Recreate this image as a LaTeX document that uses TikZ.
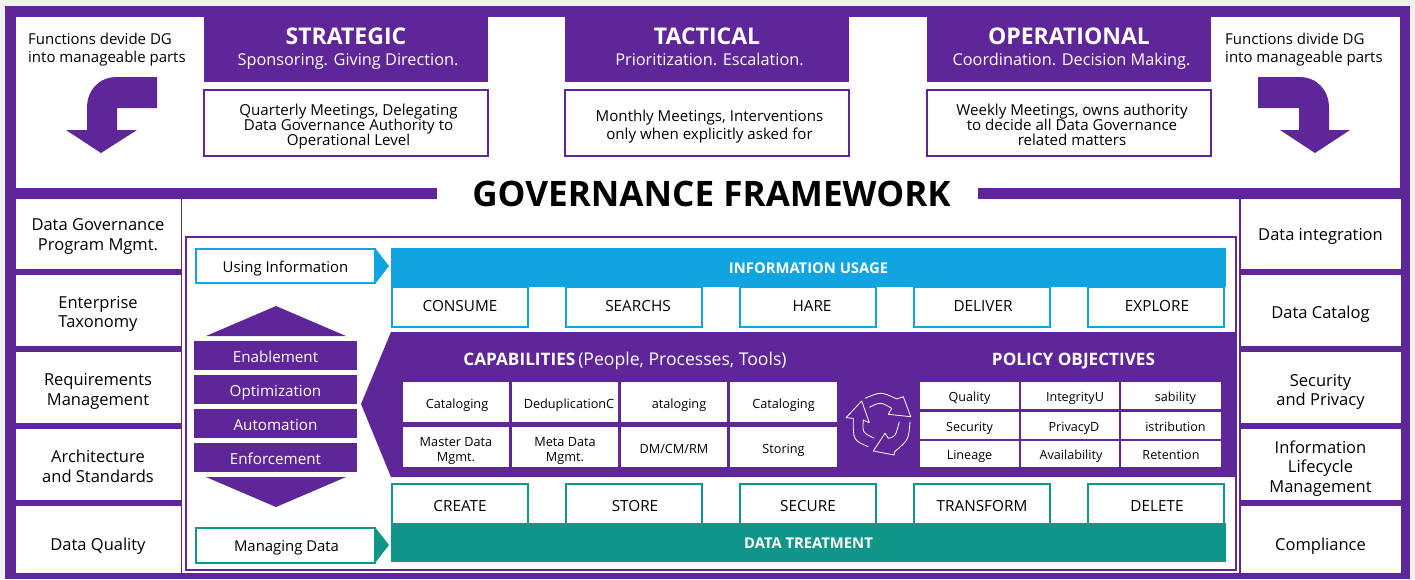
\documentclass[tikz,border=0pt]{standalone}
\usepackage{fontspec}
\setmainfont{Open Sans}
\usepackage{tikz}
\usetikzlibrary{shapes,arrows,positioning}

\definecolor{govpurple}{HTML}{5E2699}
\definecolor{govblue}{HTML}{10A5E0}
\definecolor{govteal}{HTML}{109689}
\definecolor{govpage}{HTML}{EFF1F3}

\tikzset{
	headbox/.style={fill=govpurple, inner sep=0pt, minimum width=284, minimum height=65},
	headtitle/.style={text=white, anchor=base, inner sep=0pt, font=\fontsize{23}{26}\selectfont\bfseries},
	headsub/.style={text=white, anchor=base, inner sep=0pt, font=\fontsize{16.3}{18}\selectfont},
	meetbox/.style={draw=govpurple, line width=2.5pt, fill=white, inner sep=0pt, minimum width=284, minimum height=66},
	meettext/.style={inner sep=0pt, align=center, font=\fontsize{15.1}{15}\selectfont\setlength{\lineskiplimit}{-10pt}},
	functext/.style={anchor=west, inner sep=0pt, align=left, font=\fontsize{15}{18.5}\selectfont},
	sidebox/.style={draw=govpurple, line width=1pt, fill=white, inner sep=0pt, minimum width=166},
	sidetext/.style={inner sep=0pt, align=center, font=\fontsize{16.5}{19.7}\selectfont},
	usebox/.style={draw=govblue, line width=2pt, fill=white, inner sep=0pt, minimum width=136, minimum height=40, text height=11pt, text depth=1.6pt, font=\fontsize{15.3}{16}\selectfont},
	treatbox/.style={draw=govteal, line width=2pt, fill=white, inner sep=0pt, minimum width=136, minimum height=40, text height=17pt, text depth=1.6pt, font=\fontsize{15.3}{16}\selectfont},
	tagbox/.style={fill=white, inner sep=0pt, line width=2pt, minimum width=179, text height=15pt, text depth=1.6pt, font=\fontsize{14.9}{16}\selectfont},
	bigbar/.style={text=white, inner sep=0pt, minimum width=835, minimum height=39, text height=14pt, text depth=1.6pt, font=\fontsize{14.8}{16}\selectfont\bfseries},
	levelbar/.style={fill=govpurple, text=white, inner sep=0pt, minimum width=163, minimum height=29, text height=15.6pt, text depth=1.6pt, font=\fontsize{15.2}{16}\selectfont},
	capbox/.style={fill=white, inner sep=0pt, minimum width=106, minimum height=40, text height=14pt, text depth=1.4pt, font=\fontsize{12.7}{15}\selectfont},
	captext/.style={inner sep=0pt, align=center, font=\fontsize{12.7}{15}\selectfont},
	policybox/.style={fill=white, inner sep=0pt, minimum width=99, minimum height=27, text height=13pt, text depth=1.5pt, font=\fontsize{12.6}{15}\selectfont},
	bentarrow/.style={fill=govpurple, draw=none},
	cycleline/.style={draw=white, line width=0.8pt, line join=round}
}

\begin{document}
\begin{tikzpicture}[x=1pt, y=-1pt]
	\useasboundingbox (0,0) rectangle (1415,579);
	\fill[govpage] (0,0) rectangle (1415,579);
	\fill[govpurple] (5,6) rectangle (1410,579);
	
	% top panel
	\fill[white] (16,17) rectangle (1400,188);
	\fill[white] (437,186) rectangle (978,204);
	\fill[white] (182,199) rectangle (1239,573);
	\draw[govpurple, line width=2pt] (186,237) rectangle (1236,570);
	
	\node[headbox] (h1) at (346,49.5) {};
	\node[headbox] (h2) at (707,49.5) {};
	\node[headbox] (h3) at (1069,49.5) {};
	\node[headtitle] (ht1) at (346,44) {STRATEGIC};
	\node[headtitle] (ht2) at (707,44) {TACTICAL};
	\node[headtitle] (ht3) at (1069,44) {OPERATIONAL};
	\node[headsub] (hs1) at (348,65.5) {Sponsoring. Giving Direction.};
	\node[headsub] (hs2) at (709.5,65.5) {Prioritization. Escalation.};
	\node[headsub] (hs3) at (1071.5,65.5) {Coordination. Decision Making.};
	
	\node[meetbox] (m1) at (346,123) {};
	\node[meetbox] (m2) at (707,123) {};
	\node[meetbox] (m3) at (1069,123) {};
	\node[meettext] (mt1) at (348.5,126.5) {Quarterly Meetings, Delegating\\Data Governance Authority to\\Operational Level};
	\node[meettext, font=\fontsize{15.1}{18}\selectfont] (mt2) at (709.5,127) {Monthly Meetings, Interventions\\only when explicitly asked for};
	\node[meettext] (mt3) at (1072,124.5) {Weekly Meetings, owns authority\\to decide all Data Governance\\related matters};
	
	\node[functext] (f1) at (28,49.5) {Functions devide DG\\into manageable parts};
	\node[functext] (f2) at (1225,49.5) {Functions divide DG\\into manageable parts};
	
	% bent arrows
	\fill[bentarrow] (157,77) -- (157,108) -- (117,108) -- (117,130) -- (137,130) -- (101,153) -- (66,130) -- (87,130) -- (87,108) .. controls (87,90) and (99,77) .. (117,77) -- cycle;
	\fill[bentarrow] (1258,77) -- (1258,108) -- (1299,108) -- (1299,130) -- (1280,130) -- (1315,153) -- (1350,130) -- (1329,130) -- (1329,108) .. controls (1329,90) and (1317,77) .. (1299,77) -- cycle;
	
	\node[font=\fontsize{35.1}{40}\selectfont\bfseries, inner sep=0pt] (title) at (711.5,194) {GOVERNANCE FRAMEWORK};
	
	% side columns
	\node[sidebox, minimum height=71] (l1) at (98,233.5) {};
	\node[sidebox, minimum height=72] (l2) at (98,310.5) {};
	\node[sidebox, minimum height=72] (l3) at (98,387.5) {};
	\node[sidebox, minimum height=72] (l4) at (98,464.5) {};
	\node[sidebox, minimum height=68] (l5) at (98,539.5) {};
	\node[sidetext] (lt1) at (98,236.5) {Data Governance\\Program Mgmt.};
	\node[sidetext] (lt2) at (98,314) {Enterprise\\Taxonomy};
	\node[sidetext] (lt3) at (98,391.5) {Requirements\\Management};
	\node[sidetext] (lt4) at (98,466.5) {Architecture\\and Standards};
	\node[sidetext] (lt5) at (98,546.5) {Data Quality};
	
	\node[sidebox, minimum width=161, minimum height=71] (r1) at (1320.5,233.5) {};
	\node[sidebox, minimum width=161, minimum height=72] (r2) at (1320.5,310.5) {};
	\node[sidebox, minimum width=161, minimum height=72] (r3) at (1320.5,387.5) {};
	\node[sidebox, minimum width=161, minimum height=72] (r4) at (1320.5,464.5) {};
	\node[sidebox, minimum width=161, minimum height=68] (r5) at (1320.5,539.5) {};
	\node[sidetext] (rt1) at (1320.5,236.5) {Data integration};
	\node[sidetext] (rt2) at (1320.5,314.5) {Data Catalog};
	\node[sidetext] (rt3) at (1320.5,392) {Security\\and Privacy};
	\node[sidetext] (rt4) at (1320.5,468.5) {Information\\Lifecycle\\Management};
	\node[sidetext] (rt5) at (1320.5,546.5) {Compliance};
	
	% information usage
	\fill[govblue] (375,248) -- (389,266) -- (375,284) -- cycle;
	\node[tagbox, draw=govblue, minimum height=34] (using) at (285.5,266) {Using Information};
	\node[bigbar, fill=govblue] (iu) at (808.5,267.5) {INFORMATION USAGE};
	\node[usebox] (u1) at (460,307) {CONSUME};
	\node[usebox] (u2) at (634,307) {\hspace*{8pt}SEARCHS};
	\node[usebox] (u3) at (808,307) {\hspace*{8pt}HARE};
	\node[usebox] (u4) at (982,307) {\hspace*{2pt}DELIVER};
	\node[usebox] (u5) at (1156,307) {\hspace*{2pt}EXPLORE};
	
	% levels
	\fill[govpurple] (206,336) -- (276,306) -- (346,336) -- cycle;
	\node[levelbar, text height=14.6pt] (e1) at (275.5,355.5) {Enablement};
	\node[levelbar] (e2) at (275.5,389.5) {Optimization};
	\node[levelbar] (e3) at (275.5,423.5) {Automation};
	\node[levelbar] (e4) at (275.5,457.5) {Enforcement};
	\fill[govpurple] (206,477) -- (346,477) -- (276,507) -- cycle;
	
	% capabilities
	\fill[govpurple] (361,404) -- (391,332) -- (1235,332) -- (1235,477) -- (391,477) -- cycle;
	\node[text=white, anchor=center, inner sep=0pt, font=\fontsize{17.6}{18}\selectfont] (ct) at (625,360.5) {\fontsize{17.2}{18}\selectfont\textbf{CAPABILITIES}\,\fontsize{17.6}{18}\selectfont(People, Processes, Tools)};
	\node[text=white, inner sep=0pt, font=\fontsize{17.15}{18}\selectfont\bfseries] (pt) at (1073.5,361) {POLICY OBJECTIVES};
	
	\node[capbox] (c1) at (456,402) {\hspace*{2pt}Cataloging};
	\node[capbox] (c2) at (565,402) {\hspace*{8pt}DeduplicationC};
	\node[capbox] (c3) at (674,402) {\hspace*{10pt}ataloging};
	\node[capbox, minimum width=107] (c4) at (783.5,402) {Cataloging};
	\node[capbox] (c5) at (456,447) {};
	\node[capbox] (c6) at (565,447) {};
	\node[capbox] (c7) at (674,447) {DM/CM/RM};
	\node[capbox, minimum width=107] (c8) at (783.5,447) {Storing};
	\node[captext] (ct5) at (456,450.5) {Master Data\\Mgmt.};
	\node[captext] (ct6) at (565,450.5) {Meta Data\\Mgmt.};
	
	\node[policybox] (p1) at (969.5,395.5) {Quality};
	\node[policybox, minimum width=98] (p2) at (1070,395.5) {\hspace*{10pt}IntegrityU};
	\node[policybox, minimum width=100] (p3) at (1171,395.5) {\hspace*{9pt}sability};
	\node[policybox] (p4) at (969.5,425.5) {Security};
	\node[policybox, minimum width=98] (p5) at (1070,425.5) {\hspace*{8pt}PrivacyD};
	\node[policybox, minimum width=100] (p6) at (1171,425.5) {\hspace*{9pt}istribution};
	\node[policybox, minimum height=26] (p7) at (969.5,454) {Lineage};
	\node[policybox, minimum width=98, minimum height=26] (p8) at (1070,454) {\hspace*{2pt}Availability};
	\node[policybox, minimum width=100, minimum height=26] (p9) at (1171,454) {Retention};
	
	% cycle icon
	\draw[cycleline] (865,398.3) .. controls (881,391.5) .. (896.7,399) -- (903.3,396.7) -- (910.7,416.7) -- (888.3,414.3) -- (891.7,408.3) .. controls (880.5,401.8) .. (869.3,407.3);
	\draw[cycleline] (910,421.7) .. controls (908.6,439.8) .. (894.3,452) -- (894.3,455) -- (873.3,451) -- (885,433.3) -- (888.3,438.3) .. controls (895.4,436.7) .. (899.3,421.7);
	\draw[cycleline] (868.3,446.7) .. controls (853.1,440.2) .. (853.3,418.3) -- (846,417.7) -- (861.7,401) -- (869.3,422.7) -- (863.3,420) .. controls (862.4,432.6) .. (874.3,438.3);
	
	% data treatment
	\node[treatbox] (t1) at (460,504) {CREATE};
	\node[treatbox] (t2) at (634,504) {\hspace*{2pt}STORE};
	\node[treatbox] (t3) at (808,504) {SECURE};
	\node[treatbox] (t4) at (982,504) {TRANSFORM};
	\node[treatbox] (t5) at (1156,504) {\hspace*{2pt}DELETE};
	\node[bigbar, fill=govteal] (dt) at (808.5,542.5) {DATA TREATMENT};
	\fill[govteal] (375,527) -- (389,545) -- (375,563) -- cycle;
	\node[tagbox, draw=govteal, minimum height=35, text height=14pt] (managing) at (285.5,545.5) {\hspace*{2pt}Managing Data};
\end{tikzpicture}
\end{document}
